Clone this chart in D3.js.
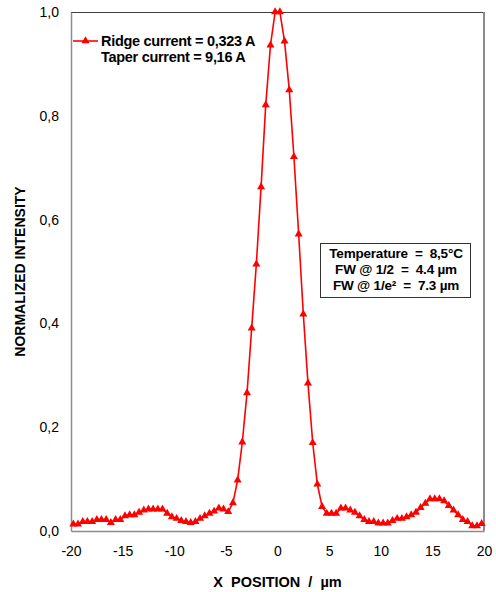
<!DOCTYPE html>
<html>
<head>
<meta charset="utf-8">
<script src="https://cdn.jsdelivr.net/npm/d3@7"></script>
<style>
  html, body { margin: 0; padding: 0; background: #fff; }
  svg { display: block; }
  text { font-family: Arial, "Liberation Sans", sans-serif; }
</style>
</head>
<body>
<svg id="chart" width="496" height="592"></svg>
<script>
// Lateral position (µm) of each sample in the near-field scan
const xPositions = [
  -19.77, -19.32, -18.86, -18.41, -17.95, -17.50, -17.05, -16.59, -16.14, -15.68,
  -15.23, -14.77, -14.32, -13.86, -13.41, -12.95, -12.50, -12.05, -11.59, -11.14,
  -10.68, -10.23, -9.77, -9.32, -8.86, -8.41, -7.95, -7.50, -7.05, -6.59,
  -6.14, -5.68, -5.23, -4.77, -4.32, -3.86, -3.41, -2.95, -2.50, -2.05,
  -1.59, -1.14, -0.68, -0.23, 0.23, 0.68, 1.14, 1.59, 2.05, 2.50,
  2.95, 3.41, 3.86, 4.32, 4.77, 5.23, 5.68, 6.14, 6.59, 7.05,
  7.50, 7.95, 8.41, 8.86, 9.32, 9.77, 10.23, 10.68, 11.14, 11.59,
  12.05, 12.50, 12.95, 13.41, 13.86, 14.32, 14.77, 15.23, 15.68, 16.14,
  16.59, 17.05, 17.50, 17.95, 18.41, 18.86, 19.32, 19.77
];

// Normalized intensity at each position
const intensity = [
  0.013, 0.013, 0.018, 0.018, 0.018, 0.022, 0.022, 0.022, 0.016, 0.022,
  0.022, 0.029, 0.031, 0.031, 0.036, 0.040, 0.042, 0.042, 0.042, 0.042,
  0.034, 0.027, 0.024, 0.020, 0.018, 0.016, 0.018, 0.024, 0.029, 0.034,
  0.038, 0.044, 0.042, 0.037, 0.054, 0.098, 0.171, 0.266, 0.391, 0.514,
  0.663, 0.821, 0.936, 1.000, 1.000, 0.944, 0.850, 0.721, 0.572, 0.418,
  0.285, 0.170, 0.090, 0.047, 0.034, 0.034, 0.034, 0.044, 0.044, 0.040,
  0.036, 0.029, 0.022, 0.018, 0.018, 0.015, 0.015, 0.015, 0.020, 0.024,
  0.024, 0.027, 0.031, 0.036, 0.045, 0.053, 0.062, 0.062, 0.062, 0.058,
  0.049, 0.040, 0.031, 0.022, 0.018, 0.010, 0.010, 0.014
];

const xTicks = [-20, -15, -10, -5, 0, 5, 10, 15, 20];
const yTicks = [0, 0.2, 0.4, 0.6, 0.8, 1.0];

const legendLines = ["Ridge current = 0,323 A", "Taper current = 9,16 A"];
const infoLines = ["Temperature  =  8,5°C", "FW @ 1/2  =  4.4 µm", "FW @ 1/e²  =  7.3 µm"];

const plot = { left: 71, right: 484, top: 12, bottom: 531 };

const svg = d3.select("#chart");

const x = d3.scaleLinear().domain([-20, 20]).range([plot.left, plot.right]);
const y = d3.scaleLinear().domain([0, 1]).range([plot.bottom, plot.top]);

const commaFmt = v => d3.format(".1f")(v).replace(".", ",");

// Plot frame
svg.append("line")
  .attr("x1", plot.left).attr("x2", plot.right)
  .attr("y1", plot.top + 0.5).attr("y2", plot.top + 0.5)
  .attr("stroke", "#404040").attr("stroke-width", 1);
svg.append("line")
  .attr("x1", plot.right).attr("x2", plot.right)
  .attr("y1", plot.top).attr("y2", plot.bottom)
  .attr("stroke", "#8c8c8c").attr("stroke-width", 2);

// Axes (no tick marks, labels only)
const xAxis = d3.axisBottom(x).tickValues(xTicks).tickSize(0).tickPadding(15)
  .tickFormat(d => String(d));
const gx = svg.append("g").attr("transform", `translate(0,${plot.bottom})`).call(xAxis);
gx.select(".domain").attr("stroke", "#8c8c8c").attr("stroke-width", 1.5);
gx.selectAll("text").attr("font-size", 14).attr("fill", "#000")
  .style("font-family", "Arial, 'Liberation Sans', sans-serif");

const yAxis = d3.axisLeft(y).tickValues(yTicks).tickSize(0).tickPadding(12)
  .tickFormat(commaFmt);
const gy = svg.append("g").attr("transform", `translate(${plot.left},0)`).call(yAxis);
gy.select(".domain").attr("stroke", "#8c8c8c").attr("stroke-width", 1.5);
gy.selectAll("text").attr("font-size", 14).attr("fill", "#000")
  .style("font-family", "Arial, 'Liberation Sans', sans-serif");

// Axis titles
svg.append("text")
  .attr("x", (plot.left + plot.right) / 2).attr("y", 587)
  .attr("text-anchor", "middle")
  .attr("font-size", 14.5).attr("font-weight", "bold")
  .style("white-space", "pre")
  .text("X  POSITION  /  µm");

svg.append("text")
  .attr("transform", `translate(25,${(plot.top + plot.bottom) / 2}) rotate(-90)`)
  .attr("text-anchor", "middle")
  .attr("font-size", 14).attr("font-weight", "bold")
  .text("NORMALIZED INTENSITY");

// Data series
const data = xPositions.map((xv, i) => ({ x: xv, y: intensity[i] }));
const line = d3.line().x(d => x(d.x)).y(d => y(d.y));
const tri = d3.symbol().type(d3.symbolTriangle).size(28);

svg.append("path")
  .datum(data)
  .attr("d", line)
  .attr("fill", "none")
  .attr("stroke", "#ff0000")
  .attr("stroke-width", 1.6);

svg.append("g").selectAll("path")
  .data(data)
  .join("path")
  .attr("d", tri)
  .attr("transform", d => `translate(${x(d.x)},${y(d.y)})`)
  .attr("fill", "#ff0000");

// Legend
const lg = svg.append("g");
lg.append("line")
  .attr("x1", 73).attr("x2", 98).attr("y1", 41).attr("y2", 41)
  .attr("stroke", "#ff0000").attr("stroke-width", 1.6);
lg.append("path").attr("d", tri).attr("transform", "translate(85.5,41)").attr("fill", "#ff0000");
lg.selectAll("text.leg")
  .data(legendLines)
  .join("text")
  .attr("class", "leg")
  .attr("x", 101)
  .attr("y", (d, i) => 46 + i * 16)
  .attr("font-size", 14.5).attr("font-weight", "bold")
  .attr("letter-spacing", -0.3)
  .text(d => d);

// Info box
const box = { x: 320, y: 243, w: 150, h: 54 };
svg.append("rect")
  .attr("x", box.x + 0.5).attr("y", box.y + 0.5)
  .attr("width", box.w).attr("height", box.h)
  .attr("fill", "#fff").attr("stroke", "#333").attr("stroke-width", 1);
svg.selectAll("text.info")
  .data(infoLines)
  .join("text")
  .attr("class", "info")
  .attr("x", box.x + box.w / 2 + 1)
  .attr("y", (d, i) => box.y + 15 + i * 16)
  .attr("text-anchor", "middle")
  .attr("font-size", 13.5).attr("font-weight", "bold")
  .attr("letter-spacing", -0.2)
  .style("white-space", "pre")
  .text(d => d);
</script>
</body>
</html>
